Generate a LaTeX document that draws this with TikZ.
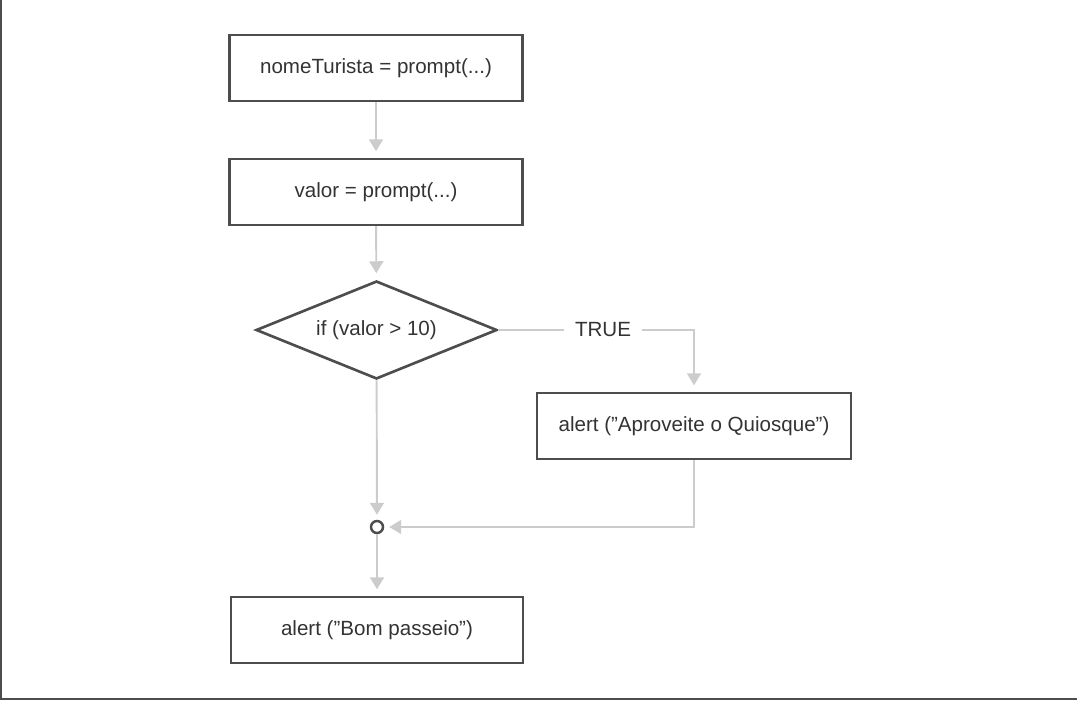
\documentclass[tikz,border=0pt]{standalone}
\usepackage{fontspec}
\setmainfont{Liberation Sans}
\usetikzlibrary{arrows.meta,shapes.geometric}
\definecolor{boxline}{HTML}{4D4D4D}
\definecolor{flowline}{HTML}{CCCCCC}
\definecolor{txt}{HTML}{333333}

\begin{document}
\begin{tikzpicture}[font=\fontsize{11.7}{14}\selectfont, text=txt,
		proc/.style={draw=boxline, line width=1.4pt, minimum width=5.86cm, minimum height=1.32cm},
		cond/.style={diamond, draw=boxline, line width=1.5pt, minimum width=4.82cm, minimum height=1.96cm, aspect=2.46, inner sep=0pt},
		flow/.style={draw=flowline, line width=1.1pt, -{Triangle[width=0.28cm,length=0.24cm]}, shorten >=0.13cm},
		junct/.style={circle, draw=boxline, line width=1.4pt, minimum size=0.24cm, inner sep=0pt}]
				\useasboundingbox (0,0) rectangle (21.54,14.02);
				\draw[boxline, line width=1.1pt] (0.02,14.02) -- (0.02,0.04) -- (21.54,0.04);
				\node[proc] (nome) at (7.52,12.66) {nomeTurista = prompt(...)};
				\node[proc] (valor) at (7.52,10.18) {valor = prompt(...)};
				\node[cond] (se) at (7.53,7.42) {if (valor > 10)};
				\node[proc, minimum width=6.28cm] (aprov) at (13.88,5.5) {alert (”Aproveite o Quiosque”)};
				\node[junct] (junta) at (7.54,3.48) {};
				\node[proc, minimum width=5.84cm] (bom) at (7.54,1.42) {alert (”Bom passeio”)};
				\draw[flow] (nome) to (valor);
				\draw[flow] (valor) to (se);
				\draw[flow] (se.east) -- node[fill=white, inner xsep=0.22cm, pos=0.535]{TRUE} (se -| aprov) -- (aprov);
				\draw[flow, shorten >=0.1cm] (se) to (junta);
				\draw[flow, shorten >=0.1cm] (aprov) |- (junta);
				\draw[flow] (junta) to (bom);
			\end{tikzpicture}
\end{document}
